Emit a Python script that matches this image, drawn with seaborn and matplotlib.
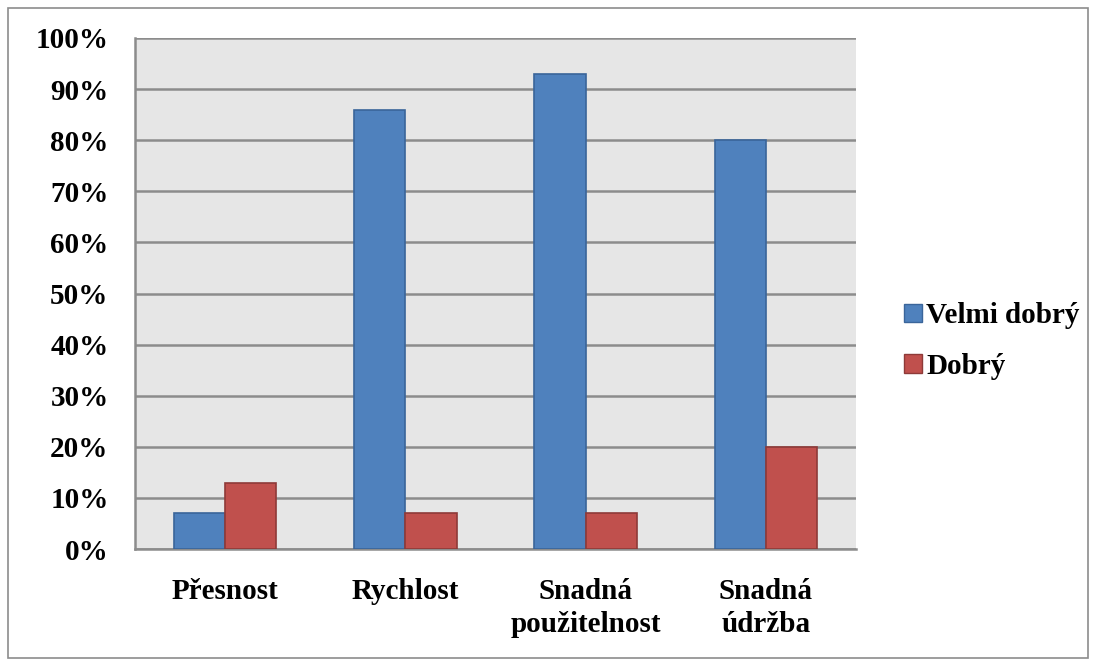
#!/usr/bin/env python3
"""
Grouped bar chart: rating of the system (Velmi dobrý / Dobrý) per criterion.
"""

import matplotlib
matplotlib.use("Agg")
import matplotlib.pyplot as plt
import matplotlib.patches as mpatches
import pandas as pd
import seaborn as sns

# ─── Data ────────────────────────────────────────────────────────────────────
categories = ["Přesnost", "Rychlost", "Snadná\npoužitelnost", "Snadná\núdržba"]
velmi_dobry = [7, 86, 93, 80]
dobry = [13, 7, 7, 20]
series_names = ["Velmi dobrý", "Dobrý"]
y_ticks = list(range(0, 101, 10))

colors = ["#4F81BD", "#C0504D"]
edges = ["#3A659A", "#8E3A38"]

df = pd.DataFrame({
    "kategorie": categories * 2,
    "hodnota": velmi_dobry + dobry,
    "serie": [series_names[0]] * len(categories) + [series_names[1]] * len(categories),
})

# ─── Style ───────────────────────────────────────────────────────────────────
sns.set_theme(style="white")
plt.rcParams["font.family"] = ["Liberation Serif", "DejaVu Serif"]
plt.rcParams["font.weight"] = "bold"
plt.rcParams["text.color"] = "black"
plt.rcParams["xtick.labelcolor"] = "black"
plt.rcParams["ytick.labelcolor"] = "black"

W, H = 1096, 666
fig = plt.figure(figsize=(W / 100, H / 100), dpi=100)
ax = fig.add_axes([135 / W, 1 - 549 / H, (856 - 135) / W, (549 - 38) / H])

sns.barplot(data=df, x="kategorie", y="hodnota", hue="serie",
            palette=colors, width=0.57, gap=0, saturation=1,
            ax=ax, zorder=3, legend=False)

# bar edges
for container, ec in zip(ax.containers, edges):
    for bar in container:
        bar.set_edgecolor(ec)
        bar.set_linewidth(1.2)

ax.set_facecolor("#E6E6E6")
ax.set_xlim(-0.5, len(categories) - 0.5)
ax.set_ylim(0, 100)
ax.set_yticks(y_ticks)
ax.set_yticklabels([f"{v}%" for v in y_ticks])
ax.yaxis.grid(True, color="#8C8C8C", linewidth=1.8, zorder=0)
ax.set_axisbelow(True)
ax.set_xlabel("")
ax.set_ylabel("")

for side in ["top", "right"]:
    ax.spines[side].set_visible(False)
for side in ["left", "bottom"]:
    ax.spines[side].set_color("#8C8C8C")
    ax.spines[side].set_linewidth(1.8)

ax.tick_params(axis="y", direction="out", length=8, width=1.8, color="#8C8C8C",
               pad=11, labelsize=21, labelcolor="black")
ax.tick_params(axis="x", which="major", length=0, pad=21, labelsize=21,
               labelcolor="black")
ax.set_xticks([i - 0.5 for i in range(len(categories) + 1)], minor=True)
ax.tick_params(axis="x", which="minor", direction="out", length=8, width=1.8,
               color="#8C8C8C")
for lbl in ax.get_xticklabels():
    lbl.set_fontweight("bold")
    lbl.set_linespacing(1.3)
    lbl.set_verticalalignment("top")
for lbl in ax.get_yticklabels():
    lbl.set_fontweight("bold")

# legend
handles = [mpatches.Patch(facecolor=c, edgecolor=e, label=n)
           for c, e, n in zip(colors, edges, series_names)]
fig.legend(handles=handles, loc="center left", bbox_to_anchor=(878 / W, 1 - 341 / H),
           frameon=False, prop={"size": 21, "weight": "bold"},
           handlelength=0.6, handleheight=0.6, handletextpad=0.15,
           labelspacing=0.8)

# outer chart frame
fig.patches.append(mpatches.Rectangle((8 / W, 8 / H), (1088 - 8) / W, (658 - 8) / H,
                                      transform=fig.transFigure, fill=False,
                                      edgecolor="#8C8C8C", linewidth=1.2))

fig.savefig("out.png", dpi=100)
